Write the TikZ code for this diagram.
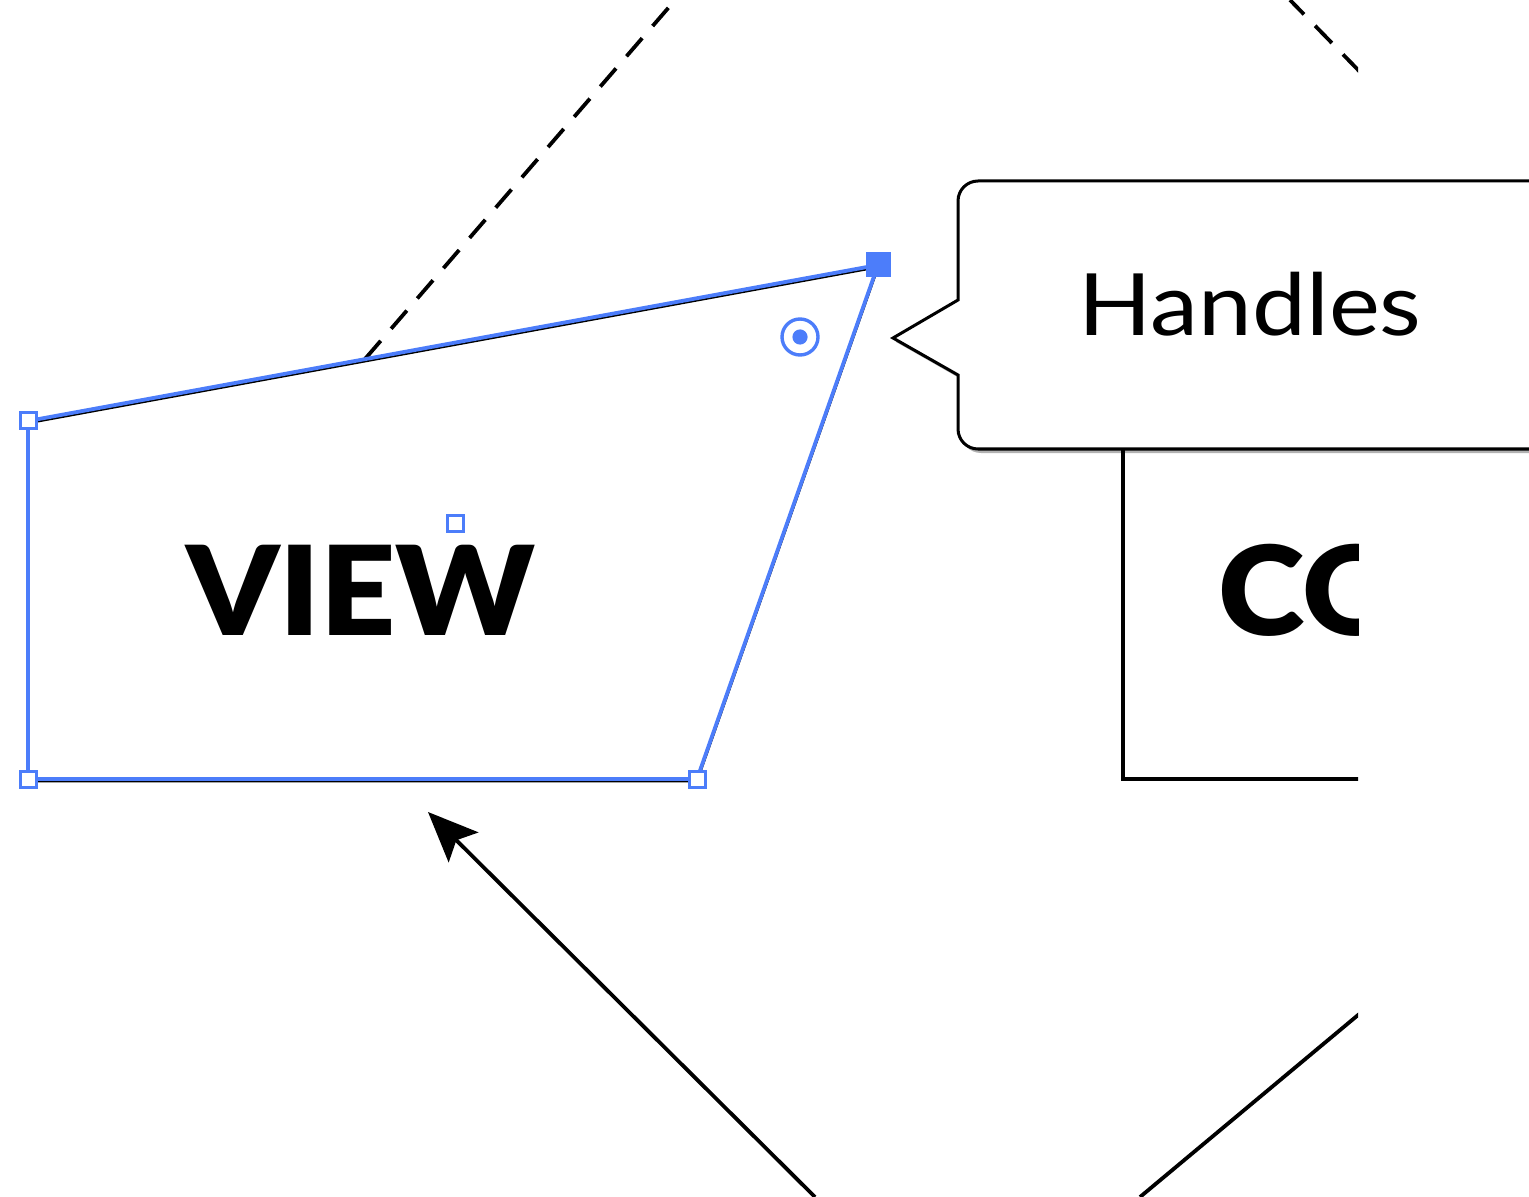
\documentclass[tikz,border=0pt]{standalone}
\usepackage{fontspec}
\setmainfont{Lato}
\newfontfamily\boxfont[FakeStretch=1.06]{Lato Black}
\newfontfamily\notefont[FakeStretch=1.12]{Lato}
\usetikzlibrary{arrows.meta,shadows}
\definecolor{selblue}{RGB}{76,125,250}
\tikzset{
  edgeline/.style={selblue, line width=1.9pt},
  underline/.style={black, line width=1.3pt},
  handle/.style={draw=selblue, fill=white, line width=1.5pt, minimum size=8pt, inner sep=0pt, rectangle},
  activehandle/.style={draw=selblue, fill=selblue, line width=0.5pt, minimum size=12pt, inner sep=0pt, rectangle},
  guide/.style={black, line width=1.9pt, dash pattern=on 12pt off 8pt},
  plain/.style={black, line width=1.9pt},
  biglabel/.style={font=\boxfont\fontsize{62}{62}\selectfont, inner sep=0pt},
  tiplabel/.style={font=\notefont\fontsize{43}{43}\selectfont, inner sep=0pt},
  bubble/.style={draw=black, fill=white, line width=1.5pt,
    drop shadow={shadow xshift=1.5pt, shadow yshift=-2pt, opacity=0.3, fill=black}},
}
\begin{document}
\begin{tikzpicture}[x=0.5pt, y=-0.5pt]
\useasboundingbox (0,0) rectangle (1529,1197);
\clip (0,0) rectangle (1529,1197);

% corners of the selected shape
\coordinate (tl) at (28,421);
\coordinate (tr) at (878,265);
\coordinate (br) at (697,779);
\coordinate (bl) at (28,779);
\coordinate (guideA) at (365,359);
\coordinate (guideB) at (676,-1);

% dashed guide line leaving the shape
\draw[guide] (guideA) -- (guideB);

% shape outline: dark stroke beneath the blue selection
\draw[underline] ([yshift=-1pt]tl) -- ([yshift=-1pt]tr) -- ([yshift=-1pt]br) -- ([yshift=-1pt]bl);
\draw[edgeline] (bl) -- (tl) -- (tr) -- (br) -- cycle;

% label
\node[biglabel] (view) at (361,590) {VIEW};

% selection handles
\node[handle] (htl) at (tl) {};
\node[handle] (hbl) at (bl) {};
\node[handle] (hbr) at (br) {};
\node[handle] (hmid) at (455,523) {};
\node[activehandle] (htr) at (tr) {};

% rotation target
\node[circle, draw=selblue, line width=1.7pt, minimum size=18pt, inner sep=0pt] (target) at (800,337) {};
\fill[selblue] (target.center) circle (3.8pt);

% neighbouring elements, cut off at the right
\begin{scope}
  \clip (0,0) rectangle (1358,1197);
  \coordinate (boxtop) at (1123,449);
  \coordinate (boxcorner) at (1123,779);
  \coordinate (boxright) at (1400,779);
  \draw[plain] (boxtop) -- (boxcorner) -- (boxright);
  \node[biglabel, anchor=west] (ctrl) at (1218,590) {CO};
  \coordinate (g2a) at (1290,0);
  \coordinate (g2b) at (1400,113);
  \draw[guide, dash phase=2pt] (g2a) -- (g2b);
  \coordinate (l2a) at (1140,1197);
  \coordinate (l2b) at (1400,980);
  \draw[plain] (l2a) -- (l2b);
\end{scope}

% arrow pointing to the shape
\coordinate (arrowfoot) at (815,1197);
\coordinate (arrowtip) at (428,812);
\draw[plain, -{Stealth[length=25pt, width=21pt, inset=5pt]}] (arrowfoot) -- (arrowtip);

% callout bubble
\coordinate (tip) at (893,338);
\draw[bubble] (tip) -- (958,300) -- (958,201) arc[start angle=180, end angle=270, radius=20]
  -- (1560,181) -- (1560,449) -- (978,449) arc[start angle=90, end angle=180, radius=20]
  -- (958,375) -- cycle;
\node[tiplabel] (handles) at (1250,304) {Handles};
\end{tikzpicture}
\end{document}
